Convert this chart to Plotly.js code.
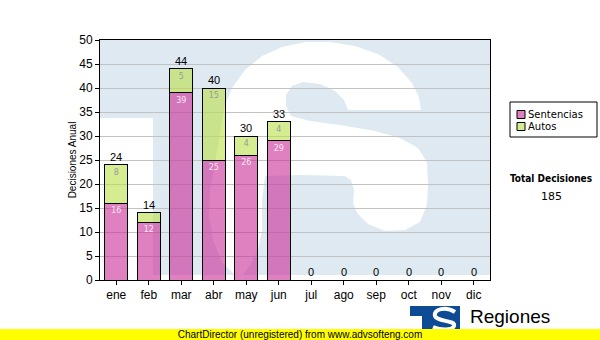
<!DOCTYPE html>
<html>
<head>
<meta charset="utf-8">
<script src="https://cdn.plot.ly/plotly-3.0.1.min.js"></script>
<style>
  body { margin:0; overflow:hidden; background:#fff; }
  #chart { width:600px; height:340px; }
  #footer { position:absolute; left:0; top:329px; width:600px; height:11px; background:#ffff00;
            font:10px 'Liberation Sans', Arial, sans-serif; line-height:11px; text-align:center; color:#000; }
</style>
</head>
<body>
<div id="chart"></div>
<div id="footer">ChartDirector (unregistered) from www.advsofteng.com</div>
<script>
// ---- data ----
const months = ['ene','feb','mar','abr','may','jun','jul','ago','sep','oct','nov','dic'];
const sentencias = [16, 12, 39, 25, 26, 29, 0, 0, 0, 0, 0, 0];
const autos      = [8, 2, 5, 15, 4, 4, 0, 0, 0, 0, 0, 0];
const seriesNames = ['Sentencias', 'Autos'];
const yTicks = [0, 5, 10, 15, 20, 25, 30, 35, 40, 45, 50];
const totalTitle = 'Total Decisiones';

// ---- derived ----
const totals = months.map((m, i) => sentencias[i] + autos[i]);
const grandTotal = totals.reduce((a, b) => a + b, 0);
const lbl = v => (v >= 3 ? String(v) : '');

// ---- styles ----
const pinkFill = 'rgba(201,43,150,0.6)';
const greenFill = 'rgba(185,223,70,0.6)';
const pinkSolid = '#df80c0';
const greenSolid = '#d5ec90';
const lightBlue = '#dfe9f2';

// pixel -> paper helpers (plot area x 100..490, y 40..280)
const px = x => (x - 100) / 390;
const py = y => (280 - y) / 240;
const poly = pts => 'M ' + pts.map(p => px(p[0]).toFixed(4) + ',' + py(p[1]).toFixed(4)).join(' L ') + ' Z';

const whiteS = [
  [225,105],[232,88],[245,70],[262,56],[282,47],[305,42],[330,42],[355,46],[378,54],[398,67],[412,83],[419,97],[421,110],
  [348,110],[344,100],[335,91],[320,84],[303,82],[292,86],[286,95],[286,106],[291,116],
  [310,121],[340,125],[375,131],[400,138],[418,148],[427,162],[428,185],[427,205],[420,222],[405,230],[385,231],[368,224],[357,213],
  [353,203],[354,190],[351,180],[345,176],[300,175],[265,176],
  [262,200],[262,230],[258,250],[250,265],[243,275],[235,275],
  [222,262],[213,240],[209,215],[210,190],[214,168],[219,140],[222,120]
];

const shapes = [
  // watermark
  {type:'rect', xref:'paper', yref:'paper', x0:0, x1:1, y0:py(275), y1:1, fillcolor:lightBlue, line:{width:0}, layer:'below'},
  {type:'rect', xref:'paper', yref:'paper', x0:0, x1:px(153), y0:py(275), y1:py(118), fillcolor:'#ffffff', line:{width:0}, layer:'below'},
  {type:'path', xref:'paper', yref:'paper', path:poly(whiteS), fillcolor:'#ffffff', line:{width:0}, layer:'below'},
  // custom legend
  {type:'rect', xref:'paper', yref:'paper', x0:px(510), x1:px(597), y0:py(137), y1:py(102), fillcolor:'#ffffff', line:{color:'#000', width:1}},
  {type:'rect', xref:'paper', yref:'paper', x0:px(517), x1:px(525), y0:py(118.5), y1:py(110.5), fillcolor:pinkSolid, line:{color:'#000', width:1}},
  {type:'rect', xref:'paper', yref:'paper', x0:px(517), x1:px(525), y0:py(130.5), y1:py(122.5), fillcolor:greenSolid, line:{color:'#000', width:1}},
  // logo
  {type:'rect', xref:'paper', yref:'paper', x0:px(410), x1:px(460), y0:py(336), y1:py(306), fillcolor:'#0d4b94', line:{width:0}},
  {type:'rect', xref:'paper', yref:'paper', x0:px(410), x1:px(422), y0:py(336), y1:py(316), fillcolor:'#ffffff', line:{width:0}},
  {type:'path', xref:'paper', yref:'paper',
   path:'M ' + px(455) + ',' + py(312) + ' C ' + px(446) + ',' + py(306) + ' ' + px(433) + ',' + py(309) + ' ' + px(435) + ',' + py(316) +
        ' C ' + px(437) + ',' + py(322) + ' ' + px(456) + ',' + py(320) + ' ' + px(454) + ',' + py(326) +
        ' C ' + px(452) + ',' + py(331) + ' ' + px(440) + ',' + py(330) + ' ' + px(433) + ',' + py(327),
   line:{color:'#ffffff', width:4}}
];

const annotations = [];
months.forEach((m, i) => {
  annotations.push({x:m, y:totals[i], xref:'x', yref:'y', text:String(totals[i]), showarrow:false,
    yanchor:'bottom', yshift:0, font:{family:'Liberation Sans, Arial', size:11, color:'#000'}});
});
[[seriesNames[0], 114.5], [seriesNames[1], 126.5]].forEach(([t, y]) => {
  annotations.push({xref:'paper', yref:'paper', x:px(526), y:py(y), text:t, showarrow:false,
    xanchor:'left', yanchor:'middle', font:{family:'DejaVu Sans', size:10, color:'#000'}});
});
annotations.push({xref:'paper', yref:'paper', x:px(551), y:py(178), text:'<b>' + totalTitle + '</b>', showarrow:false,
  xanchor:'center', yanchor:'middle', font:{family:'DejaVu Sans Condensed, DejaVu Sans', size:10, color:'#000'}});
annotations.push({xref:'paper', yref:'paper', x:px(551), y:py(196), text:String(grandTotal), showarrow:false,
  xanchor:'center', yanchor:'middle', font:{family:'DejaVu Sans', size:11, color:'#000'}});
annotations.push({xref:'paper', yref:'paper', x:px(468), y:py(316.5), text:'Regiones', showarrow:false,
  xanchor:'left', yanchor:'middle', font:{family:'Liberation Sans, Arial', size:19, color:'#000'}});
annotations.push({xref:'paper', yref:'paper', x:px(467), y:py(333), text:'Tribunal Supremo de Justicia', showarrow:false,
  xanchor:'left', yanchor:'middle', font:{family:'Liberation Sans, Arial', size:9, color:'#000'}});

const traces = [
  {type:'bar', name:seriesNames[0], x:months, y:sentencias,
   marker:{color:pinkFill, line:{color:'#000', width:1}},
   text:sentencias.map(lbl), textposition:'inside', insidetextanchor:'end', textangle:0, constraintext:'none',
   insidetextfont:{family:'DejaVu Sans', size:8, color:'#fbe6f4'}, hoverinfo:'skip', showlegend:false},
  {type:'bar', name:seriesNames[1], x:months, y:autos,
   marker:{color:greenFill, line:{color:'#000', width:1}},
   text:autos.map(lbl), textposition:'inside', insidetextanchor:'end', textangle:0, constraintext:'none',
   insidetextfont:{family:'DejaVu Sans', size:8, color:'#9a9a9a'}, hoverinfo:'skip', showlegend:false}
];

const layout = {
  width:600, height:340,
  margin:{l:100, r:110, t:40, b:60, pad:0},
  paper_bgcolor:'#ffffff', plot_bgcolor:'#ffffff',
  barmode:'stack', bargap:0.29,
  showlegend:false,
  xaxis:{type:'category', showline:true, linecolor:'#000', linewidth:1, mirror:true,
         ticks:'outside', ticklen:4, tickcolor:'#000', showgrid:false, fixedrange:true,
         tickfont:{family:'Liberation Sans, Arial', size:12, color:'#000'}},
  yaxis:{range:[0,50], tickvals:yTicks, ticks:'outside', ticklen:4, tickcolor:'#000',
         showline:true, linecolor:'#000', linewidth:1, mirror:true, zeroline:false,
         showgrid:true, gridcolor:'#c2c2c2', gridwidth:1, fixedrange:true,
         tickfont:{family:'Liberation Sans, Arial', size:12, color:'#000'},
         title:{text:'Decisiones Anual', font:{family:'Liberation Sans, Arial', size:10, color:'#000'}, standoff:0}},
  shapes:shapes,
  annotations:annotations
};

Plotly.newPlot('chart', traces, layout, {displayModeBar:false, staticPlot:true});
</script>
</body>
</html>
